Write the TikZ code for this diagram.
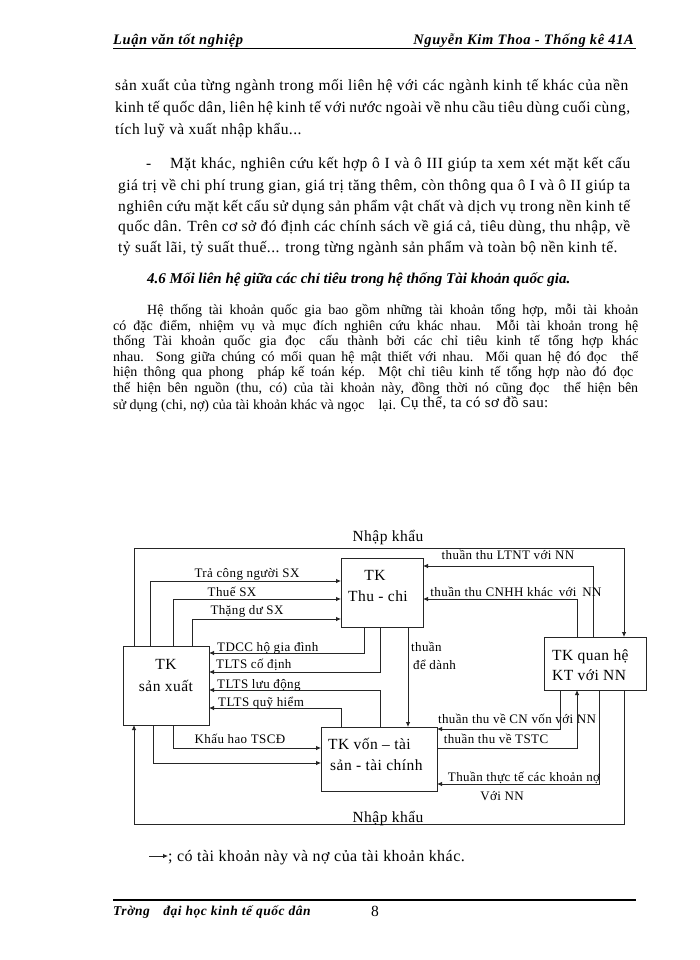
\documentclass[tikz,border=0pt]{standalone}
\usepackage{fontspec}
\setmainfont{Liberation Serif}
\newfontfamily\vnt[LetterSpace=3]{Liberation Serif}
\newfontfamily\hdrfont[LetterSpace=4]{Liberation Serif}
\usetikzlibrary{arrows.meta}
\newcommand{\JL}[2]{\makebox[#1][s]{#2}}
\tikzset{
  plain/.style={draw=black!85, line width=0.8pt},
  conn/.style={plain, -{Latex[length=5pt,width=4.5pt]}},
  box/.style={draw=black!85, line width=0.9pt, inner sep=0pt, outer sep=0pt},
  lbl/.style={font=\vnt\fontsize{13}{14}\selectfont, inner sep=0pt},
  btxt/.style={font=\vnt\fontsize{15.5}{18}\selectfont, inner sep=0pt},
  body/.style={font=\vnt\fontsize{15.5}{18}\selectfont, inner sep=0pt, anchor=base west},
  tight/.style={font=\fontsize{14}{15}\selectfont, inner sep=0pt, anchor=base west},
  hdr/.style={font=\hdrfont\fontsize{14.5}{16}\selectfont\bfseries\itshape, inner sep=0pt},
}
\begin{document}
\begin{tikzpicture}[x=1pt,y=-1pt]
\useasboundingbox (0,0) rectangle (700,960);
\fill[white] (0,0) rectangle (700,960);

% header
\node[hdr, anchor=base west] (h1) at (113,45) {Luận văn tốt nghiệp};
\node[hdr, anchor=base east] (h2) at (634,45) {Nguyễn Kim Thoa - Thống kê 41A};
\draw[line width=1.1pt] (113,48.5) -- (636,48.5);

% paragraph 1
\node[body] (p1a) at (115,91) {\JL{513pt}{sản xuất của từng ngành trong mối liên hệ với các ngành kinh tế khác của nền}};
\node[body] (p1b) at (115,113) {\JL{515pt}{kinh tế quốc dân, liên hệ kinh tế với nước ngoài về nhu cầu tiêu dùng cuối cùng,}};
\node[body] (p1c) at (115,135) {tích luỹ và xuất nhập khẩu...};

% paragraph 2
\node[body] (p2d) at (146,169) {-};
\node[body] (p2a) at (170,169) {\JL{460pt}{Mặt khác, nghiên cứu kết hợp ô I và ô III giúp ta xem xét mặt kết cấu}};
\node[body] (p2b) at (118,190.5) {\JL{512pt}{giá trị về chi phí trung gian, giá trị tăng thêm, còn thông qua ô I và ô II giúp ta}};
\node[body] (p2c) at (118,211) {\JL{512pt}{nghiên cứu mặt kết cấu sử dụng sản phẩm vật chất và dịch vụ trong nền kinh tế}};
\node[body] (p2e) at (118,231.5) {\JL{512pt}{quốc dân. Trên cơ sở đó định các chính sách về giá cả, tiêu dùng, thu nhập, về}};
\node[body] (p2f) at (118,252) {tỷ suất lãi, tỷ suất thuế... trong từng ngành sản phẩm và toàn bộ nền kinh tế.};

% heading
\node[tight, font=\fontsize{15}{16}\selectfont\bfseries\itshape] (hd) at (147,283) {4.6 Mối liên hệ giữa các chỉ tiêu trong hệ thống Tài khoản quốc gia.};

% paragraph 3
\node[tight] (p3a) at (147,314.5) {\JL{491pt}{Hệ thống tài khoản quốc gia bao gồm những tài khoản tổng hợp, mỗi tài khoản}};
\node[tight] (p3b) at (113,330) {\JL{525pt}{có đặc điểm, nhiệm vụ và mục đích nghiên cứu khác nhau. Mỗi tài khoản trong hệ}};
\node[tight] (p3c) at (113,345.5) {\JL{525pt}{thống Tài khoản quốc gia đọc\quad cấu thành bởi các chỉ tiêu kinh tế tổng hợp khác}};
\node[tight] (p3d) at (113,361) {\JL{525pt}{nhau. Song giữa chúng có mối quan hệ mật thiết với nhau. Mối quan hệ đó đọc\quad thể}};
\node[tight] (p3e) at (113,376.5) {\JL{520pt}{hiện thông qua phong\quad pháp kế toán kép. Một chỉ tiêu kinh tế tổng hợp nào đó đọc}};
\node[tight] (p3f) at (113,392) {\JL{525pt}{thể hiện bên nguồn (thu, có) của tài khoản này, đồng thời nó cũng đọc\quad thể hiện bên}};
\node[tight] (p3g) at (113,409.5) {sử dụng (chi, nợ) của tài khoản khác và ngọc\quad lại. \raisebox{2pt}{\vnt\fontsize{15}{16}\selectfont Cụ thể, ta có sơ đồ sau:}};

% ===== diagram =====
\node[box, minimum width=86pt, minimum height=79pt, anchor=north west] (sx) at (123,646) {};
\node[box, minimum width=82pt, minimum height=69pt, anchor=north west] (tc) at (341,558) {};
\node[box, minimum width=116pt, minimum height=64pt, anchor=north west] (vn) at (321,727) {};
\node[box, minimum width=102pt, minimum height=53pt, anchor=north west] (qh) at (544,637) {};

\node[btxt, anchor=base] (sxa) at (166,669) {TK};
\node[btxt, anchor=base] (sxb) at (166,691) {sản xuất};
\node[btxt, anchor=base] (tca) at (375,580) {TK};
\node[btxt, anchor=base] (tcb) at (378,601) {Thu - chi};
\node[btxt, anchor=base west] (vna) at (328,749) {TK vốn – tài};
\node[btxt, anchor=base west] (vnb) at (330,770) {sản - tài chính};
\node[btxt, anchor=base west] (qha) at (552,660) {TK quan hệ};
\node[btxt, anchor=base west] (qhb) at (552,680) {KT với NN};

% Nhập khẩu top and bottom
\draw[conn] (134,0 |- sx.north) -- (134,548) -- (624,548) -- (624,0 |- qh.north);
\node[btxt, anchor=base] (nk1) at (388,541) {Nhập khẩu};
\draw[conn] (624,0 |- qh.south) -- (624,824) -- (134,824) -- (134,0 |- sx.south);
\node[btxt, anchor=base] (nk2) at (388,822) {Nhập khẩu};

% sx -> tc
\draw[conn] (150,0 |- sx.north) -- (150,581) -- (tc.west |- 0,581);
\node[lbl, anchor=base] (l1) at (247,577) {Trả công người SX};
\draw[conn] (173,0 |- sx.north) -- (173,599) -- (tc.west |- 0,599);
\node[lbl, anchor=base] (l2) at (232,596) {Thuế SX};
\draw[conn] (192,0 |- sx.north) -- (192,619) -- (tc.west |- 0,619);
\node[lbl, anchor=base] (l3) at (247,614) {Thặng dư SX};

% tc / vn -> sx
\draw[conn] (364,0 |- tc.south) -- (364,653) -- (sx.east |- 0,653);
\node[lbl, anchor=base west] (l4) at (217,651) {TDCC hộ gia đình};
\draw[conn] (380,0 |- tc.south) -- (380,672) -- (sx.east |- 0,672);
\node[lbl, anchor=base west] (l5) at (216,668) {TLTS cố định};
\draw[conn] (380,0 |- vn.north) -- (380,690) -- (sx.east |- 0,690);
\node[lbl, anchor=base west] (l6) at (217,688) {TLTS lưu động};
\draw[conn] (341,0 |- vn.north) -- (341,708) -- (sx.east |- 0,708);
\node[lbl, anchor=base west] (l7) at (218,706) {TLTS quỹ hiểm};

% tc -> vn
\draw[conn] (408,0 |- tc.south) -- (408,0 |- vn.north);
\node[lbl, anchor=base west] (l8) at (411,651) {thuần};
\node[lbl, anchor=base west] (l9) at (413,669) {để dành};

% sx -> vn
\draw[conn] (173,0 |- sx.south) -- (173,748) -- (vn.west |- 0,748);
\node[lbl, anchor=base] (l10) at (240,743) {Khấu hao TSCĐ};
\draw[conn] (153,0 |- sx.south) -- (153,763) -- (vn.west |- 0,763);

% qh -> tc
\draw[conn] (593,0 |- qh.north) -- (593,566) -- (tc.east |- 0,566);
\node[lbl, anchor=base] (l11) at (508,559) {thuần thu LTNT với NN};
\draw[conn] (577,0 |- qh.north) -- (577,599) -- (tc.east |- 0,599);
\node[lbl, anchor=base] (l12) at (516,596) {thuần thu CNHH khác\, với\, NN};

% qh <-> vn
\draw[conn] (560,0 |- qh.south) -- (560,729) -- (vn.east |- 0,729);
\node[lbl, anchor=base] (l13) at (517,723) {thuần thu về CN vốn với NN};
\draw[conn] (vn.east |- 0,748) -- (577,748) -- (577,0 |- qh.south);
\node[lbl, anchor=base] (l14) at (496,743) {thuần thu về TSTC};
\draw[conn] (599,0 |- qh.south) -- (599,784) -- (vn.east |- 0,784);
\node[lbl, anchor=base] (l15) at (524,781) {Thuần thực tế các khoản nợ};
\node[lbl, anchor=base] (l16) at (502,800) {Với NN};

% legend
\coordinate (lg0) at (149,856);
\node[body, anchor=base west, font=\vnt\fontsize{16}{18}\selectfont] (lgt) at (168,861) {; có tài khoản này và nợ của tài khoản khác.};
\draw[conn] (lg0) -- (lgt.west |- lg0);

% footer
\draw[line width=1.1pt] (113,900) -- (636,900);
\node[hdr, anchor=base west, font=\hdrfont\fontsize{13.5}{15}\selectfont\bfseries\itshape] (f1) at (113,915) {Trờng\quad đại học kinh tế quốc dân};
\node[body, anchor=base] (f2) at (375,916) {8};
\end{tikzpicture}
\end{document}
